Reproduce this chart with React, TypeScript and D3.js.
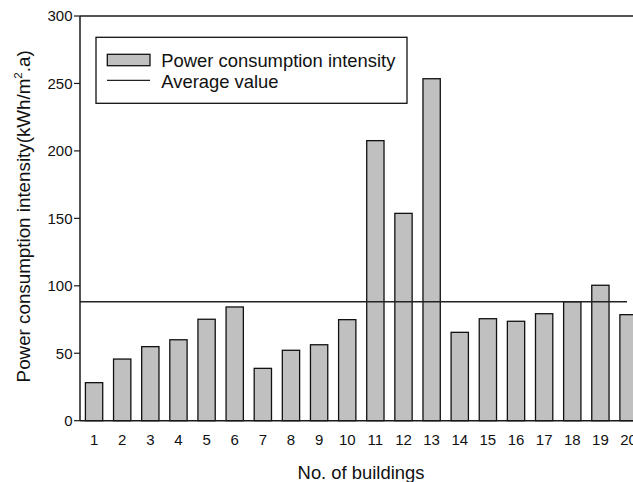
import React from "react";
import * as d3 from "d3";

const buildings = ["1","2","3","4","5","6","7","8","9","10","11","12","13","14","15","16","17","18","19","20"];
const intensity = [28.2, 45.7, 54.9, 60.0, 75.2, 84.3, 38.8, 52.2, 56.3, 74.9, 207.6, 153.7, 253.5, 65.5, 75.6, 73.7, 79.3, 88.2, 100.4, 78.6];
const averageValue = [88.2];
const yTicks = [0, 50, 100, 150, 200, 250, 300];
const legendLabels = ["Power consumption intensity", "Average value"];

const W = 633, H = 482;
const left = 80, top = 16, bottom = 420.7, plotRight = 642.6;
const font = "Arial, 'Liberation Sans', Helvetica, sans-serif";

export default function App() {
  const x = d3.scaleBand<string>().domain(buildings).range([left, plotRight]).paddingInner(0.385).paddingOuter(0.1925);
  const y = d3.scaleLinear().domain([0, 300]).range([bottom, top]);
  const axisColor = "#1a1a1a";
  return (
    <svg width={W} height={H} style={{ position: "absolute", left: 0, top: 0, background: "#fff" }} fontFamily={font}>
      {intensity.map((v, i) => (
        <rect key={i} x={x(buildings[i])} y={y(v)} width={x.bandwidth()} height={y(0) - y(v)}
          fill="#c0c0c0" stroke="#111" strokeWidth={1.3} />
      ))}
      {averageValue.map((a, i) => (
        <line key={i} x1={left} x2={627} y1={y(a)} y2={y(a)} stroke="#222" strokeWidth={1.5} />
      ))}
      <line x1={left} x2={W} y1={top} y2={top} stroke={axisColor} strokeWidth={1.3} />
      <line x1={left} x2={left} y1={top} y2={bottom} stroke={axisColor} strokeWidth={1.5} />
      <line x1={left} x2={W} y1={bottom} y2={bottom} stroke={axisColor} strokeWidth={1.5} />
      {yTicks.map((t) => (
        <g key={t}>
          <line x1={left - 6} x2={left} y1={y(t)} y2={y(t)} stroke={axisColor} strokeWidth={1.2} />
          <text x={72.5} y={y(t)} dy="0.36em" textAnchor="end" fontSize={15} fill="#111">{t}</text>
        </g>
      ))}
      {buildings.map((b) => (
        <text key={b} x={(x(b) as number) + x.bandwidth() / 2} y={444.5} textAnchor="middle" fontSize={15} fill="#111">{b}</text>
      ))}
      <text x={361} y={479} textAnchor="middle" fontSize={18.4} fill="#111">No. of buildings</text>
      <text transform={`translate(29.5, ${(bottom + top) / 2 - 2}) rotate(-90)`} textAnchor="middle" fontSize={18.8} fill="#111">
        Power consumption intensity(kWh/m<tspan fontSize={11.5} dy={-8}>2</tspan><tspan dy={8}>.a)</tspan>
      </text>
      <rect x={96} y={37.3} width={311} height={66} fill="#fff" stroke="#111" strokeWidth={1.3} />
      <rect x={107.3} y={54.3} width={42.7} height={11.4} fill="#c0c0c0" stroke="#111" strokeWidth={1.3} />
      <line x1={107} x2={150} y1={80.3} y2={80.3} stroke="#222" strokeWidth={1.3} />
      <text x={161.3} y={66.5} fontSize={18.4} fill="#111">{legendLabels[0]}</text>
      <text x={161.3} y={88} fontSize={18.4} fill="#111">{legendLabels[1]}</text>
    </svg>
  );
}
